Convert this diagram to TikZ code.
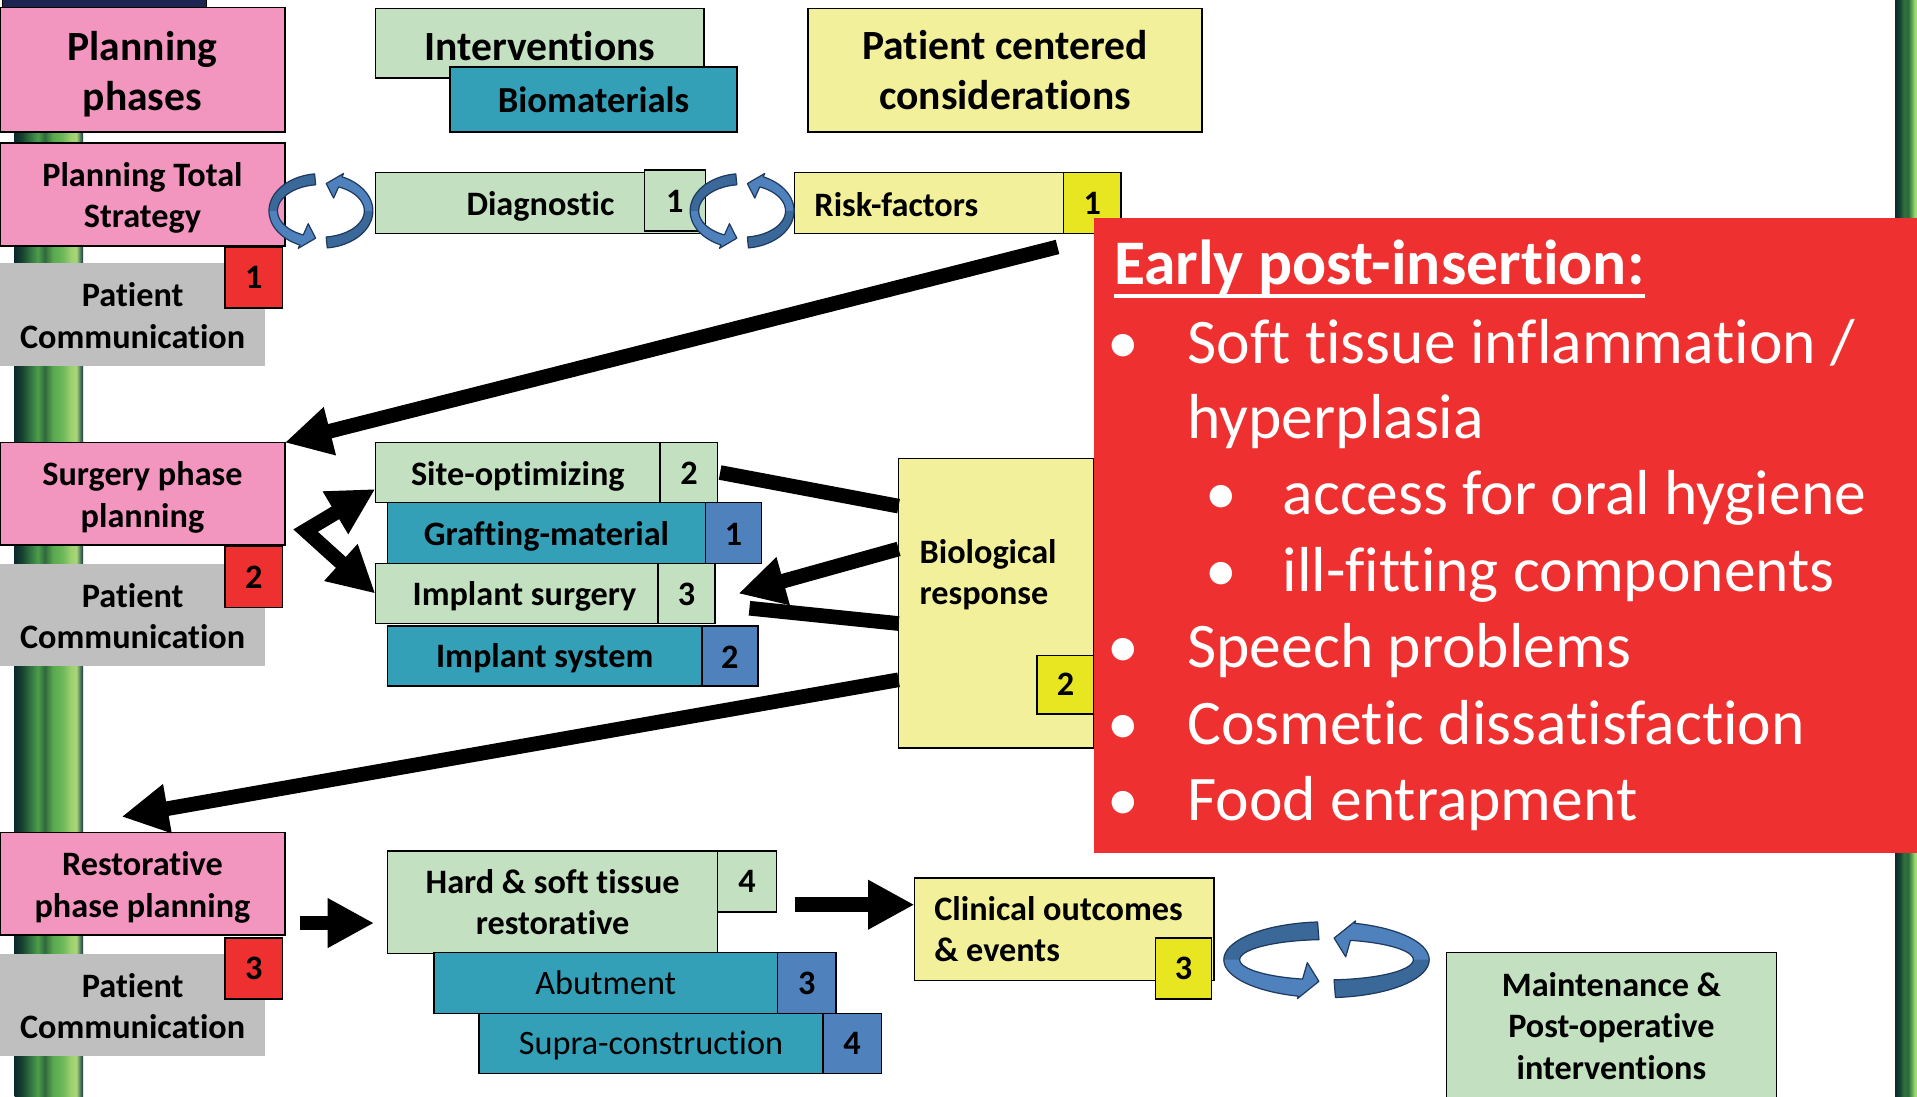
\documentclass[tikz,border=0pt]{standalone}
\usepackage{fontspec}
\setmainfont{Carlito}[Ligatures=NoCommon]
\usetikzlibrary{arrows.meta,calc}

\definecolor{cpink}{HTML}{F396BF}
\definecolor{cgreen}{HTML}{C3E1C0}
\definecolor{cteal}{HTML}{34A0B8}
\definecolor{cblue}{HTML}{4F81BD}
\definecolor{cyellow}{HTML}{F2F09A}
\definecolor{cybright}{HTML}{E8E621}
\definecolor{cred}{HTML}{EE3030}
\definecolor{cgray}{HTML}{BFBFBF}
\definecolor{ringlight}{HTML}{4F81BD}
\definecolor{ringdark}{HTML}{3A6898}
\definecolor{ringline}{HTML}{1F3A60}
\definecolor{navy}{HTML}{1C2452}
% stalk colours
\definecolor{st0}{HTML}{0C2A2E}
\definecolor{st1}{HTML}{15402F}
\definecolor{st2}{HTML}{2F7040}
\definecolor{st3}{HTML}{4C9C4C}
\definecolor{st4}{HTML}{2E6A3C}
\definecolor{st5}{HTML}{5AA84E}
\definecolor{st6}{HTML}{6CB85A}
\definecolor{st7}{HTML}{9CD070}
\definecolor{st8}{HTML}{A9D67A}
\definecolor{st9}{HTML}{4A7A5A}
\definecolor{st10}{HTML}{1A3040}

\pgfdeclarehorizontalshading{stalk}{100bp}{color(0bp)=(st0); color(25bp)=(st0);
  color(30bp)=(st1); color(36bp)=(st2); color(42bp)=(st3); color(47bp)=(st4);
  color(53bp)=(st5); color(60bp)=(st6); color(66bp)=(st7); color(70bp)=(st8);
  color(73bp)=(st9); color(75bp)=(st10); color(100bp)=(st10)}
\pgfdeclarehorizontalshading{stalkR}{100bp}{color(0bp)=(st0); color(25bp)=(st0);
  color(35bp)=(st1); color(45bp)=(st2); color(55bp)=(st4); color(63bp)=(st5);
  color(70bp)=(st8); color(75bp)=(st7); color(100bp)=(st7)}

% box: name, box style, x1, y1, x2, y2, text options, text
\newcommand\mkbox[8]{%
  \pgfmathsetmacro\mkbW{#5-#3}\pgfmathsetmacro\mkbH{#6-#4}%
  \node[#2, minimum width=\mkbW pt, minimum height=\mkbH pt, anchor=north west] (#1) at (#3,#4) {};
  \node[txt, #7] (#1-t) at (#1.center) {#8};}

% circular arrow geometry: cx, cy, outer rx, outer ry, inner rx, inner ry, outer wing, inner wing
\newcommand\ringset[8]{\def\rcx{#1}\def\rcy{#2}\def\rao{#3}\def\rbo{#4}\def\rai{#5}\def\rbi{#6}\def\rwo{#7}\def\rwi{#8}}
% one half of a circular arrow: start angle, band end angle, tip angle, end of dark part
\newcommand\ringpiece[4]{%
  \pgfmathsetmacro\rtx{(\rai-\rwi+\rao+\rwo)/2}%
  \pgfmathsetmacro\rty{(\rbi-\rwi+\rbo+\rwo)/2}%
  \def\rpath{({\rcx+\rao*cos(#1)},{\rcy+\rbo*sin(#1)})
    -- plot[domain=#1:#2, samples=40] ({\rcx+\rao*cos(\x)},{\rcy+\rbo*sin(\x)})
    -- ({\rcx+(\rao+\rwo)*cos(#2)},{\rcy+(\rbo+\rwo)*sin(#2)})
    -- ({\rcx+\rtx*cos(#3)},{\rcy+\rty*sin(#3)})
    -- ({\rcx+(\rai-\rwi)*cos(#2)},{\rcy+(\rbi-\rwi)*sin(#2)})
    -- plot[domain=#2:#1, samples=40] ({\rcx+\rai*cos(\x)},{\rcy+\rbi*sin(\x)})
    -- cycle}%
  \fill[ringlight] \rpath;
  \fill[ringdark] ({\rcx+\rao*cos(#1)},{\rcy+\rbo*sin(#1)})
    -- plot[domain=#1:#4, samples=30] ({\rcx+\rao*cos(\x)},{\rcy+\rbo*sin(\x)})
    -- plot[domain=#4:#1, samples=30] ({\rcx+\rai*cos(\x)},{\rcy+\rbi*sin(\x)}) -- cycle;
  \draw[ringline, line width=1pt, line join=round] \rpath;
}

\tikzset{
  bx/.style={draw=black, line width=1.3pt, inner sep=0pt, outer sep=0pt},
  pinkbx/.style={bx, fill=cpink},
  greenbx/.style={bx, fill=cgreen},
  tealbx/.style={bx, fill=cteal},
  bluebx/.style={bx, fill=cblue},
  yelbx/.style={bx, fill=cyellow},
  ybrbx/.style={bx, fill=cybright},
  redbx/.style={bx, fill=cred},
  graybx/.style={fill=cgray, inner sep=0pt, outer sep=0pt},
  t34/.style={font=\fontsize{34}{41}\selectfont\bfseries, align=center},
  t30/.style={font=\fontsize{30}{36}\selectfont\bfseries, align=center},
  t28/.style={font=\fontsize{28}{34}\selectfont\bfseries, align=center},
  t28r/.style={font=\fontsize{28}{34}\selectfont, align=center},
  txt/.style={inner sep=0pt},
  etitle/.style={font=\fontsize{52}{62}\selectfont\bfseries, text=white, inner sep=0pt, anchor=base west},
  ebul/.style={font=\fontsize{52}{62}\selectfont, text=white, inner sep=0pt, anchor=base west},
  conn/.style={line width=12pt, draw=black},
  tipB/.style={-{Triangle[length=38pt,width=38pt]}},
}

\begin{document}
\begin{tikzpicture}[x=1pt,y=-1pt]
\useasboundingbox (0,0) rectangle (1568,897);
\clip (0,0) rectangle (1568,897);
\fill[white] (0,0) rectangle (1568,897);

% stalks at the edges
\shade[shading=stalk] (12,0) rectangle (68,897);
\shade[shading=stalkR] (1550,0) rectangle (1568,897);
\filldraw[fill=navy, draw=black, line width=1pt] (2,-2) rectangle (169,9);

% header row
\mkbox{phases}{pinkbx}{0}{6}{233}{108}{t34,yshift=-3.5pt}{Planning\\phases}
\mkbox{interv}{greenbx}{307}{7}{576}{64}{t34,yshift=-2pt}{Interventions}
\mkbox{biomat}{tealbx}{368}{55}{603}{108}{t30}{Biomaterials}
\mkbox{pcc}{yelbx}{661}{7}{983}{108}{t34}{Patient centered\\considerations}

% total strategy row
\mkbox{pts}{pinkbx}{0}{117}{233}{201}{t28,yshift=-3pt}{Planning Total\\Strategy}
\mkbox{pc1}{graybx}{0}{215}{217}{299}{t28,yshift=-1pt}{Patient\\Communication}
\mkbox{n1}{redbx}{184}{202}{231}{252}{t28}{1}
\mkbox{diag}{greenbx}{307}{141}{577}{191}{t28,yshift=-3pt}{Diagnostic}
\mkbox{diag1}{greenbx}{527}{139}{577}{189}{t28,yshift=-1pt}{1}
\mkbox{risk}{yelbx}{650}{141}{917}{191}{}{}
\node[t28, txt, anchor=west] (risk-lbl) at (666,167) {Risk-factors};
\mkbox{risk1}{ybrbx}{870}{141}{917}{191}{t28}{1}

% surgery row
\mkbox{surg}{pinkbx}{0}{362}{233}{446}{t28,yshift=-3pt}{Surgery phase\\planning}
\mkbox{pc2}{graybx}{0}{461}{217}{545}{t28,yshift=-1pt}{Patient\\Communication}
\mkbox{n2}{redbx}{184}{447}{231}{497}{t28}{2}
\mkbox{site}{greenbx}{307}{362}{540}{411}{t28,yshift=-3pt}{Site-optimizing}
\mkbox{site2}{greenbx}{540}{362}{587}{411}{t28,yshift=-1pt}{2}
\mkbox{graft}{tealbx}{317}{411}{577}{461}{t28,yshift=-3pt}{Grafting-material}
\mkbox{graft1}{bluebx}{577}{411}{623}{461}{t28,yshift=-1pt}{1}
\mkbox{implS}{greenbx}{307}{461}{538}{510}{}{}
\node[t28, txt] (implS-lbl) at (429,488) {Implant surgery};
\mkbox{implS3}{greenbx}{538}{461}{585}{510}{t28,yshift=-1pt}{3}
\mkbox{implY}{tealbx}{317}{512}{574}{561}{t28,yshift=-2pt}{Implant system}
\mkbox{implY2}{bluebx}{574}{512}{620}{561}{t28,yshift=-1pt}{2}
\mkbox{bio}{yelbx}{735}{375}{895}{612}{}{}
\node[t28, txt, anchor=west, align=left] (bio-lbl) at (752,470) {Biological\\response};
\mkbox{bio2}{ybrbx}{848}{536}{895}{584}{t28}{2}

% restorative row
\mkbox{restor}{pinkbx}{0}{681}{233}{765}{t28,yshift=-3pt}{Restorative\\phase planning}
\mkbox{pc3}{graybx}{0}{780}{217}{864}{t28,yshift=-1pt}{Patient\\Communication}
\mkbox{n3}{redbx}{184}{767}{231}{817}{t28}{3}
\mkbox{hard}{greenbx}{317}{696}{587}{780}{t28}{Hard \& soft tissue\\restorative}
\mkbox{hard4}{greenbx}{587}{696}{635}{746}{t28}{4}
\mkbox{abut}{tealbx}{355}{779}{636}{829}{t28r}{Abutment}
\mkbox{abut3}{bluebx}{636}{779}{684}{829}{t28}{3}
\mkbox{supra}{tealbx}{392}{829}{673}{878}{t28r,yshift=-2pt}{Supra-construction}
\mkbox{supra4}{bluebx}{673}{829}{721}{878}{t28}{4}
\mkbox{clin}{yelbx}{748}{718}{993}{802}{}{}
\node[t28, txt, anchor=west, align=left] (clin-lbl) at (764,760) {Clinical outcomes\\\& events};
\mkbox{clin3}{ybrbx}{945}{767}{991}{817}{t28}{3}
\mkbox{maint}{greenbx}{1183}{779}{1453}{905}{}{}
\node[t28, txt] (maint-lbl) at (1318,839) {Maintenance \&\\Post-operative\\interventions};

% circular arrows
\ringset{262.5}{172.5}{42.5}{30.5}{35.5}{21.5}{3}{10}
\ringpiece{263}{114}{97}{180}
\ringpiece{83}{-66}{-83}{0}
\ringset{607}{172.5}{42.5}{30.5}{35.5}{21.5}{3}{10}
\ringpiece{263}{114}{97}{180}
\ringpiece{83}{-66}{-83}{0}
\ringset{1085}{785}{84}{31}{71}{16.5}{2}{14}
\ringpiece{265}{106}{95}{180}
\ringpiece{85}{-74}{-85}{0}

% connectors
\draw[conn, tipB] ([xshift=-52pt,yshift=-11pt]risk.south east) -- (surg.north east);
\draw[conn, tipB] ([yshift=56pt]bio.south west) -- ([xshift=-17pt,yshift=13pt]restor.north);
\draw[conn, tipB] ([yshift=-74pt]bio.north west) -- ([xshift=19pt]implS3.east);
\draw[conn] ([xshift=2pt]site2.east) -- ([yshift=-39pt]bio.north west);
\draw[conn] ([xshift=28pt,yshift=-12pt]implS3.east) -- ([yshift=-135pt]bio.north west);
\coordinate (fork) at (250,434);
\draw[conn, line join=miter, {Triangle[length=38pt,width=38pt]}-{Triangle[length=38pt,width=38pt]}]
  ([yshift=11pt]site.south west) -- (fork) -- (implS.west);
\draw[conn, tipB] ([xshift=12pt,yshift=10pt]restor.south east) -- ([xshift=-11pt,yshift=-17pt]hard.west);
\draw[conn, tipB] ([xshift=15pt,yshift=-19pt]hard4.east) -- ([yshift=20pt]clin.west);

% early post-insertion panel
\mkbox{early}{fill=cred, inner sep=0pt, outer sep=0pt}{895}{178}{1570}{698}{}{}
\node[etitle] (early-lbl) at (911,233) {Early post-insertion:};
\draw[white, line width=3pt] ([yshift=-9pt]early-lbl.base west) -- ([yshift=-9pt]early-lbl.base east);
\node[ebul] (b1) at (906,297) {•};
\node[ebul] (l1) at (971,297) {Soft tissue inflammation /};
\node[ebul] (l2) at (971,359) {hyperplasia};
\node[ebul] (b3) at (986,421) {•};
\node[ebul] (l3) at (1049,421) {access for oral hygiene};
\node[ebul] (b4) at (986,484) {•};
\node[ebul] (l4) at (1049,484) {ill-fitting components};
\node[ebul] (b5) at (906,546) {•};
\node[ebul] (l5) at (971,546) {Speech problems};
\node[ebul] (b6) at (906,609) {•};
\node[ebul] (l6) at (971,609) {Cosmetic dissatisfaction};
\node[ebul] (b7) at (906,671) {•};
\node[ebul] (l7) at (971,671) {Food entrapment};
\end{tikzpicture}
\end{document}
